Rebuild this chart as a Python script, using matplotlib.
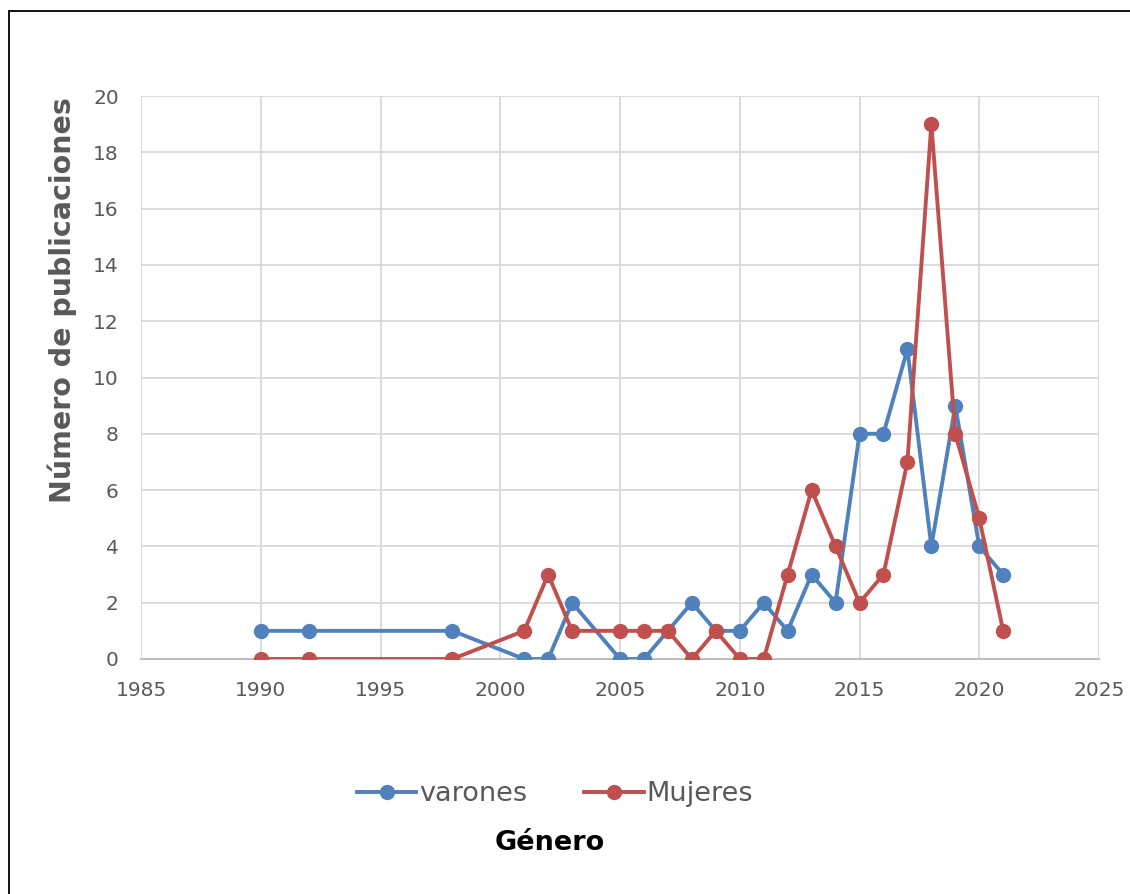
import matplotlib
matplotlib.use("Agg")
import matplotlib.pyplot as plt
from matplotlib.patches import Rectangle
from matplotlib.lines import Line2D

years = [1990, 1992, 1998, 2001, 2002, 2003, 2005, 2006, 2007, 2008, 2009, 2010,
         2011, 2012, 2013, 2014, 2015, 2016, 2017, 2018, 2019, 2020, 2021]
varones = [1, 1, 1, 0, 0, 2, 0, 0, 1, 2, 1, 1, 2, 1, 3, 2, 8, 8, 11, 4, 9, 4, 3]
mujeres = [0, 0, 0, 1, 3, 1, 1, 1, 1, 0, 1, 0, 0, 3, 6, 4, 2, 3, 7, 19, 8, 5, 1]
series_names = ["varones", "Mujeres"]
x_ticks = [1985, 1990, 1995, 2000, 2005, 2010, 2015, 2020, 2025]
y_ticks = [0, 2, 4, 6, 8, 10, 12, 14, 16, 18, 20]

plt.rcParams['font.family'] = ['DejaVu Sans']

W, H = 1130, 894
fig = plt.figure(figsize=(W / 100, H / 100), dpi=100)
ax = fig.add_axes([141 / W, 1 - 659 / H, (1099 - 141) / W, (659 - 96) / H])

blue = "#4F81BD"
red = "#C0504D"
ax.plot(years, varones, color=blue, lw=2.8, marker="o", ms=10, zorder=3)
ax.plot(years, mujeres, color=red, lw=2.8, marker="o", ms=10, zorder=4)

ax.set_xlim(1985, 2025)
ax.set_ylim(0, 20)
ax.set_xticks(x_ticks)
ax.set_yticks(y_ticks)
ax.grid(True, color="#D9D9D9", lw=1.3, zorder=0)
ax.set_axisbelow(True)
for s in ["top", "right", "left"]:
    ax.spines[s].set_visible(False)
ax.spines["bottom"].set_color("#BFBFBF")
ax.spines["bottom"].set_linewidth(1.5)
ax.tick_params(axis="both", length=0, labelsize=14.5, labelcolor="#595959")
ax.tick_params(axis="x", pad=16)
ax.tick_params(axis="y", pad=16)

ax.set_ylabel("Número de publicaciones", fontsize=20.5, fontweight="bold",
              color="#595959", va="center")
ax.yaxis.set_label_coords((62 - 141) / 958, (659 - 300) / 563)

handles = [Line2D([], [], color=blue, lw=2.8, marker="o", ms=10),
           Line2D([], [], color=red, lw=2.8, marker="o", ms=10)]
leg = fig.legend(handles, series_names, loc="center", bbox_to_anchor=(555 / W, 1 - 794 / H),
                 ncol=2, frameon=False, fontsize=19.5, handlelength=2.2, handletextpad=0.1,
                 columnspacing=2.1, labelcolor="#595959")

fig.text(550 / W, 1 - 843 / H, "Género", fontsize=19.5, fontweight="bold",
         color="black", ha="center", va="center")

fig.patches.append(Rectangle((9 / W, -0.1), 1.2, 1 - 11 / H + 0.1,
                             transform=fig.transFigure, fill=False,
                             edgecolor="black", lw=1.3))

fig.savefig("out.png", dpi=100, facecolor="white")
